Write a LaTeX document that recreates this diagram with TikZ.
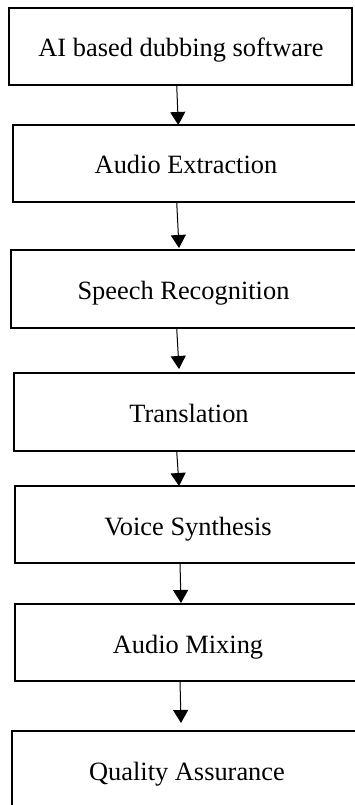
\documentclass[tikz,border=0pt]{standalone}
\usepackage{fontspec}
\setmainfont{Liberation Serif}
\usetikzlibrary{arrows.meta}
\begin{document}
\begin{tikzpicture}[x=1pt,y=-1pt,
  box/.style={draw, line width=2pt, inner sep=0pt, outer sep=0pt},
  lbl/.style={font=\fontsize{26.4}{30}\selectfont, anchor=base, inner sep=0pt},
  arr/.style={line width=1pt, -{Triangle[length=13pt,width=15pt]}}]
\useasboundingbox (0,0) rectangle (354,805);
\node[box, minimum width=343pt, minimum height=77pt] (b1) at (180.5,46.5) {};
\node[box, minimum width=359pt, minimum height=77pt] (b2) at (192.5,163.5) {};
\node[box, minimum width=361pt, minimum height=78pt] (b3) at (191.5,289) {};
\node[box, minimum width=358pt, minimum height=78pt] (b4) at (193,412) {};
\node[box, minimum width=357pt, minimum height=77pt] (b5) at (193.5,524.5) {};
\node[box, minimum width=357pt, minimum height=77pt] (b6) at (193.5,642.5) {};
\node[box, minimum width=360pt, minimum height=79pt] (b7) at (192,770.5) {};
\node[lbl] (t1) at (181,57) {AI based dubbing software};
\node[lbl] (t2) at (186,174) {Audio Extraction};
\node[lbl] (t3) at (183.5,299) {Speech Recognition};
\node[lbl] (t4) at (189,422) {Translation};
\node[lbl] (t5) at (188,535) {Voice Synthesis};
\node[lbl] (t6) at (188,653) {Audio Mixing};
\node[lbl] (t7) at (187,780) {Quality Assurance};
\draw[arr] (b1.south -| 176.7,0) -- (b2.north -| 178.3,0);
\draw[arr] (b2.south -| 176.7,0) -- ([yshift=2pt]b3.north -| 179,0);
\draw[arr] (b3.south -| 176.7,0) -- ([yshift=4pt]b4.north -| 179,0);
\draw[arr] (b4.south -| 176.7,0) -- (b5.north -| 179,0);
\draw[arr] (b5.south -| 180,0) -- ([yshift=1pt]b6.north -| 181,0);
\draw[arr] (b6.south -| 180,0) -- ([yshift=8pt]b7.north -| 181,0);
\end{tikzpicture}
\end{document}
